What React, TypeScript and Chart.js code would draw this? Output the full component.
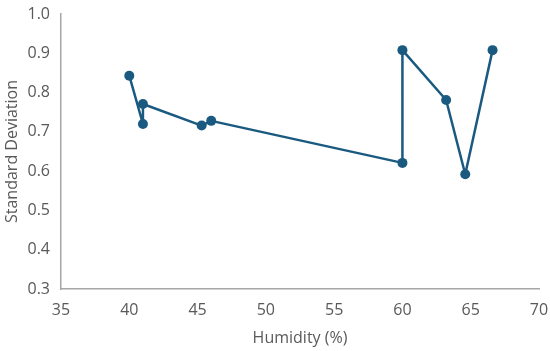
import React, { useEffect, useRef } from "react";
import { Chart, registerables } from "chart.js";

Chart.register(...registerables);

const humidity = [40.0, 41.0, 41.0, 45.3, 46.0, 60.0, 60.0, 63.2, 64.6, 66.6];
const stdDev = [0.843, 0.72, 0.771, 0.716, 0.728, 0.621, 0.908, 0.781, 0.592, 0.908];

const FONT = "'Open Sans', 'DejaVu Sans', sans-serif";
const TEXT = "#595959";
const LINE = "#1b5a80";

export default function App() {
  const ref = useRef<HTMLCanvasElement>(null);
  useEffect(() => {
    if (!ref.current) return;
    const chart = new Chart(ref.current, {
      type: "scatter",
      data: {
        datasets: [
          {
            data: humidity.map((x, i) => ({ x, y: stdDev[i] })),
            showLine: true,
            borderColor: LINE,
            backgroundColor: LINE,
            borderWidth: 2.5,
            borderJoinStyle: "round",
            borderCapStyle: "round",
            pointRadius: 5,
            pointBorderWidth: 0,
            pointBackgroundColor: LINE,
          },
        ],
      },
      options: {
        responsive: false,
        animation: false,
        layout: { padding: 0 },
        plugins: { legend: { display: false }, tooltip: { enabled: false } },
        scales: {
          x: {
            type: "linear",
            min: 35,
            max: 70,
            ticks: { stepSize: 5, color: TEXT, font: { family: FONT, size: 16 }, padding: 12 },
            grid: { display: false, drawTicks: false },
            border: { display: true, color: "#a6a6a6", width: 1.5 },
            title: {
              display: true,
              text: "Humidity (%)",
              color: TEXT,
              font: { family: FONT, size: 16 },
              padding: { top: 0, bottom: 3 },
            },
            afterFit: (s: any) => {
              s.height = 62;
              s.paddingRight = 11;
            },
          },
          y: {
            min: 0.3,
            max: 1.0,
            ticks: {
              stepSize: 0.1,
              color: TEXT,
              font: { family: FONT, size: 16 },
              padding: 11,
              callback: (v: any) => Number(v).toFixed(1),
            },
            grid: { display: false, drawTicks: false },
            border: { display: true, color: "#a6a6a6", width: 1.5 },
            title: {
              display: true,
              text: "Standard Deviation",
              color: TEXT,
              font: { family: FONT, size: 16 },
              padding: { top: 3, bottom: 0 },
            },
            afterFit: (s: any) => {
              s.width = 61;
              s.paddingTop = 14;
            },
          },
        },
      },
    });
    return () => chart.destroy();
  }, []);
  return (
    <div style={{ position: "absolute", left: 0, top: 0, width: 550, height: 351, background: "#fff" }}>
      <canvas ref={ref} width={550} height={351} />
    </div>
  );
}
